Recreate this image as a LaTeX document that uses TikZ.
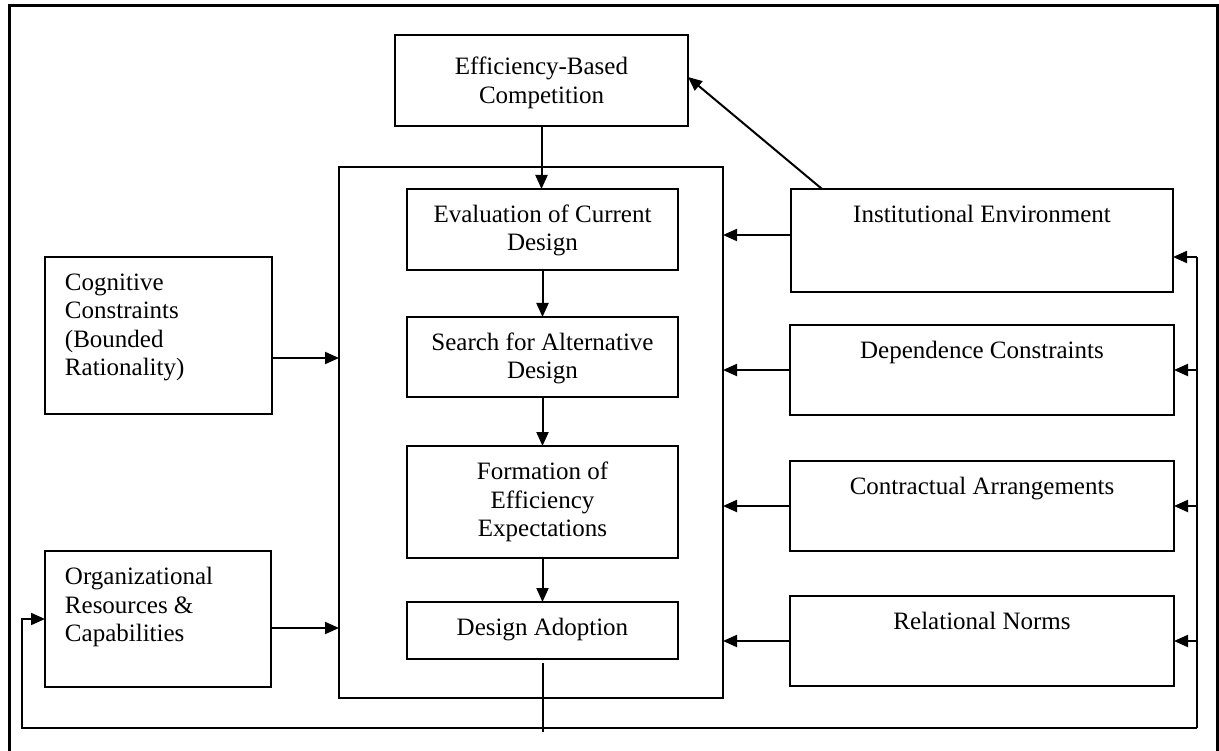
\documentclass[tikz,border=0pt]{standalone}
\usepackage{fontspec}
\setmainfont{Liberation Serif}
\usetikzlibrary{arrows.meta,calc}
\newcommand{\boxtext}[4]{\parbox[c][#2pt][t]{#1pt}{#3\rule{0pt}{33.5pt}#4}}
\newcommand{\ctr}{\centering}
\newcommand{\lft}{\raggedright\leftskip=20pt\relax}
\begin{document}
\begin{tikzpicture}[x=1pt,y=-1pt,
  box/.style={draw, line width=2pt, inner sep=0pt, outer sep=0pt, anchor=north west, font=\fontsize{25}{28.5}\selectfont},
  conn/.style={line width=2pt},
  arr/.style={conn, -{Triangle[length=14pt,width=12pt]}}]
\useasboundingbox (0,0) rectangle (1219,751);
\draw[line width=3pt] (9,751) -- (9,6) -- (1217,6) -- (1217,751);

\node[box] (eff) at (395,35) {\parbox[c][91pt][t]{293pt}{\centering\rule{0pt}{40pt}Efficiency-Based\\Competition}};
\node[box, minimum width=384pt, minimum height=531pt] (big) at (339,167) {};
\node[box] (eval) at (407,189) {\boxtext{271}{81}{\ctr}{Evaluation of Current\\Design}};
\node[box] (search) at (407,317) {\boxtext{271}{80}{\ctr}{Search for Alternative\\Design}};
\node[box] (form) at (407,446) {\boxtext{271}{112}{\ctr}{Formation of\\Efficiency\\Expectations}};
\node[box] (adopt) at (407,602) {\boxtext{271}{57}{\ctr}{Design Adoption}};
\node[box] (cog) at (45,257) {\boxtext{227}{157}{\lft}{Cognitive\\Constraints\\(Bounded\\Rationality)}};
\node[box] (org) at (45,551) {\boxtext{226}{136}{\lft}{Organizational\\Resources \&\\Capabilities}};
\node[box] (inst) at (791,189) {\boxtext{382}{103}{\ctr}{Institutional Environment}};
\node[box] (dep) at (790,325) {\boxtext{384}{90}{\ctr}{Dependence Constraints}};
\node[box] (con) at (790,461) {\boxtext{384}{90}{\ctr}{Contractual Arrangements}};
\node[box] (rel) at (790,596) {\boxtext{384}{90}{\ctr}{Relational Norms}};

% central flow
\draw[arr] (eff.south) -- (eff.south |- eval.north);
\draw[arr] (eval.south) -- (search.north);
\draw[arr] (search.south) -- (form.north);
\draw[arr] (form.south) -- (adopt.north);
\coordinate (a1) at ([yshift=-4pt]adopt.south);
\coordinate (a2) at (542.5,732);
\draw[conn] (a1) -- (a2);

% left inputs
\coordinate (c1) at ([yshift=-22.5pt]cog.east);
\draw[arr] (c1) -- (c1 -| big.west);
\coordinate (o1) at ([yshift=-9pt]org.east);
\draw[arr] (o1) -- (o1 -| big.west);

% right inputs
\coordinate (i1) at ([yshift=5.5pt]inst.west);
\draw[arr] (i1) -- (i1 -| big.east);
\draw[arr] (dep.west) -- (dep.west -| big.east);
\draw[arr] (con.west) -- (con.west -| big.east);
\draw[arr] (rel.west) -- (rel.west -| big.east);

% institutional to competition
\coordinate (i2) at ([xshift=31pt]inst.north west);
\draw[arr] (i2) -- ([yshift=3.5pt]eff.east);

% feedback loop
\coordinate (bl) at (22,728);
\coordinate (br) at (1197,728);
\draw[arr] (br) -- (bl) -- (bl |- org.west) -- (org.west);
\coordinate (ir) at ([yshift=-16.5pt]inst.east);
\draw[conn] (br) -- (br |- ir);
\draw[arr] (br |- ir) -- (ir);
\draw[arr] (br |- dep.east) -- (dep.east);
\draw[arr] (br |- con.east) -- (con.east);
\draw[arr] (br |- rel.east) -- (rel.east);
\end{tikzpicture}
\end{document}
